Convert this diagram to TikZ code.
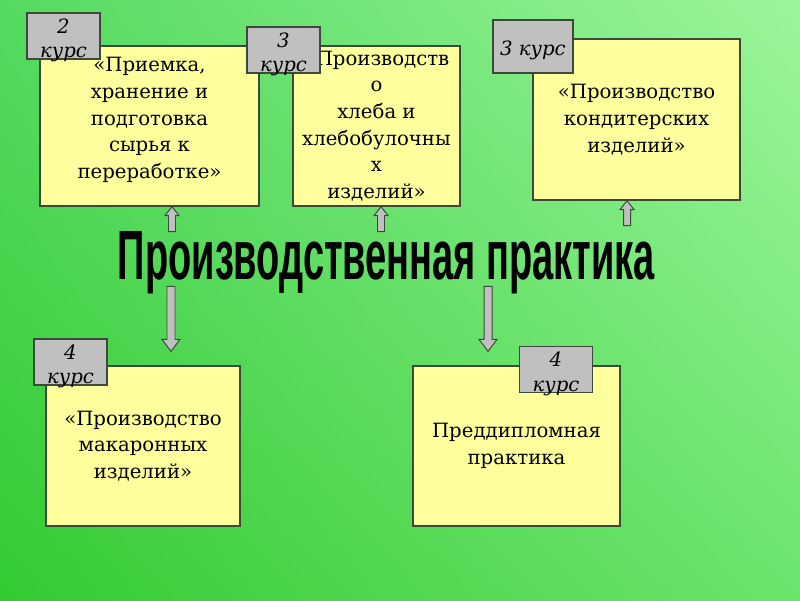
\documentclass[tikz,border=0pt]{standalone}
\usepackage{fontspec}
\setmainfont{DejaVu Serif}
\newfontfamily\titlefont{Liberation Sans}
\usepackage{tikz}
\usetikzlibrary{calc,positioning,shadings}

\definecolor{bgUL}{HTML}{55DA60}
\definecolor{bgUR}{HTML}{9CF59C}
\definecolor{bgLL}{HTML}{33CA33}
\definecolor{bgLR}{HTML}{6CE46C}
\definecolor{boxfill}{HTML}{FFFF9E}
\definecolor{tagfill}{HTML}{C0C0C0}
\definecolor{edge}{HTML}{3C4A3C}

\begin{document}
\begin{tikzpicture}[x=0.025cm, y=-0.025cm,
    practbox/.style={draw=edge, line width=0.9pt, fill=boxfill, align=center,
                     font=\fontsize{14}{19}\selectfont, inner sep=0pt},
    boxtext/.style={align=center, font=\fontsize{14}{19}\selectfont, inner sep=0pt},
    coursetag/.style={draw=edge, line width=0.9pt, fill=tagfill, inner sep=0pt,
                      minimum width=1.825cm, minimum height=1.15cm,
                      label={[align=center, font=\fontsize{14}{17.5}\selectfont\itshape,
                              inner sep=0pt, yshift=-3pt]center:#1}},
    blockarr/.style={draw=edge, line width=0.7pt, fill=tagfill, line join=miter},
    pics/uparr/.style={code={
      \draw[blockarr] (0,0) -- (7,9) -- (3.5,9) -- (3.5,#1) -- (-3.5,#1)
        -- (-3.5,9) -- (-7,9) -- cycle;}},
    pics/downarr/.style={code={
      \draw[blockarr] (0,0) -- (9,-12) -- (4,-12) -- (4,-#1) -- (-4,-#1)
        -- (-4,-12) -- (-9,-12) -- cycle;}},
  ]

  % background
  \shade[upper left=bgUL, upper right=bgUR, lower left=bgLL, lower right=bgLR]
    (0,0) rectangle (800,600);
  \useasboundingbox (0,0) rectangle (800,600);

  % === Top row ===
  \node[practbox, minimum width=5.475cm, minimum height=4cm] (b1) at (149.5,126) {};
  \node[boxtext] (b1text) at (149.5,120)
    {«Приемка,\\хранение и\\подготовка\\сырья к\\переработке»};
  \node[practbox, minimum width=4.175cm, minimum height=4cm] (b2) at (376.5,126)
    {«Производств\\о\\хлеба и\\хлебобулочны\\х\\изделий»};
  \node[practbox, minimum width=5.175cm, minimum height=4.025cm] (b3) at (636.5,119.5)
    {«Производство\\кондитерских\\изделий»};

  \node[coursetag={2\\курс}] (t1) at (63.5,36) {};
  \node[coursetag={3\\курс}] (t2) at (283.5,50) {};
  \node[coursetag={3 курс}, minimum width=2cm, minimum height=1.325cm] (t3) at (533,46.5) {};

  % === Title ===
  \node[inner sep=0pt] (title) at (386.5,263)
    {\resizebox{13.425cm}{1.2cm}{\titlefont\bfseries Производственная практика}};

  % === Bottom row ===
  \node[practbox, minimum width=4.85cm, minimum height=4cm] (b4) at (143,446)
    {«Производство\\макаронных\\изделий»};
  \node[practbox, minimum width=5.175cm, minimum height=4cm] (b5) at (516.5,446)
    {Преддипломная\\практика};

  \node[coursetag={4\\курс}] (t4) at (70.5,362) {};
  \node[coursetag={4\\курс}] (t5) at (556,369.5) {};

  % Arrows
  \pic at ($(b1.south)+(22.5,0)$) {uparr=25};
  \pic at ($(b2.south)+(4.5,0)$) {uparr=25};
  \pic at ($(b3.south)+(-9.5,0)$) {uparr=25};
  \pic at ($(b4.north)+(28,-14)$) {downarr=65};
  \pic at ($(b5.north)+(-28.5,-14)$) {downarr=65};

\end{tikzpicture}
\end{document}
